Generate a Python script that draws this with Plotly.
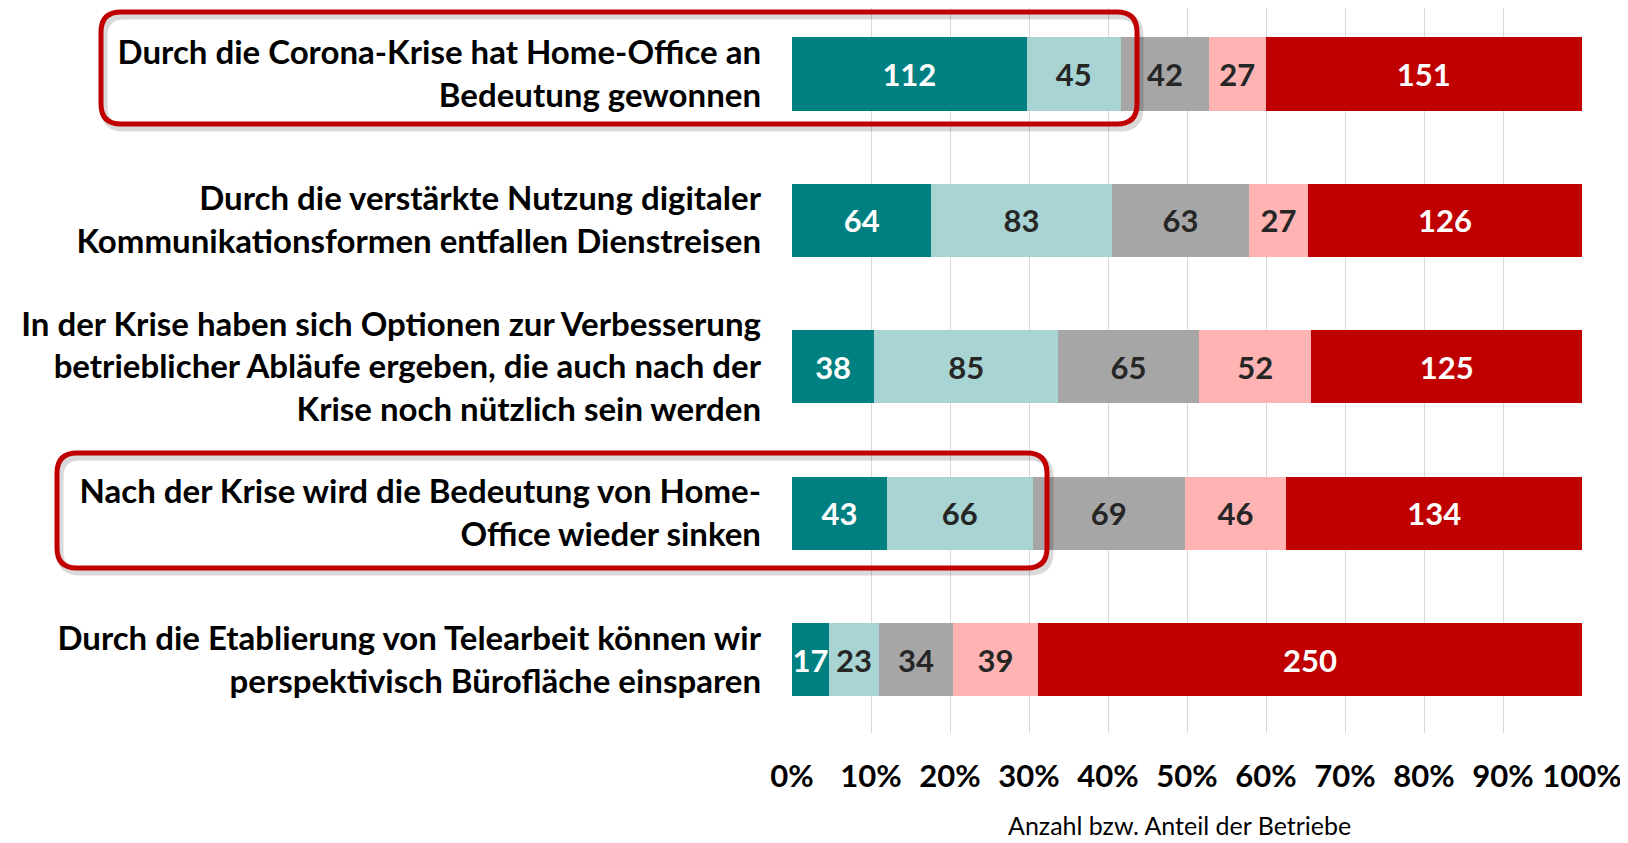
import plotly.graph_objects as go

# categories (top to bottom)
statements = [
    "Durch die Corona-Krise hat Home-Office an<br>Bedeutung gewonnen",
    "Durch die verstärkte Nutzung digitaler<br>Kommunikationsformen entfallen Dienstreisen",
    "In der Krise haben sich Optionen zur Verbesserung<br>betrieblicher Abläufe ergeben, die auch nach der<br>Krise noch nützlich sein werden",
    "Nach der Krise wird die Bedeutung von Home-<br>Office wieder sinken",
    "Durch die Etablierung von Telearbeit können wir<br>perspektivisch Bürofläche einsparen",
]

# counts per answer category
trifft_voll_zu = [112, 64, 38, 43, 17]
trifft_eher_zu = [45, 83, 85, 66, 23]
teils_teils = [42, 63, 65, 69, 34]
trifft_eher_nicht_zu = [27, 27, 52, 46, 39]
trifft_nicht_zu = [151, 126, 125, 134, 250]

series = [
    ("trifft voll zu", trifft_voll_zu, "#008080", "white"),
    ("trifft eher zu", trifft_eher_zu, "#A8D4D4", "#262626"),
    ("teils/teils", teils_teils, "#A6A6A6", "#262626"),
    ("trifft eher nicht zu", trifft_eher_nicht_zu, "#FFB3B3", "#262626"),
    ("trifft nicht zu", trifft_nicht_zu, "#C00000", "white"),
]

# page has an 8px body margin, so the figure is a bit smaller
OFF = 8
W, H = 1620, 835
L, R, T, B = 784, 46, 0, 110
PW, PH = W - L - R, H - T - B

fig = go.Figure()
for name, vals, col, tcol in series:
    fig.add_trace(go.Bar(
        y=statements, x=vals, name=name, orientation="h",
        marker=dict(color=col, line=dict(width=0)),
        text=vals, textposition="inside", insidetextanchor="middle",
        textfont=dict(family="Lato", size=31, color=tcol, weight="bold"),
        constraintext="none",
    ))


def px(x, y):
    # page pixel -> paper coords
    return (x - OFF - L) / PW, (H - B - (y - OFF)) / PH


def rounded_box(x0, y0, x1, y1, r):
    pts = [
        ("M", [(x0 + r, y0)]), ("L", [(x1 - r, y0)]), ("Q", [(x1, y0), (x1, y0 + r)]),
        ("L", [(x1, y1 - r)]), ("Q", [(x1, y1), (x1 - r, y1)]),
        ("L", [(x0 + r, y1)]), ("Q", [(x0, y1), (x0, y1 - r)]),
        ("L", [(x0, y0 + r)]), ("Q", [(x0, y0), (x0 + r, y0)]),
    ]
    s = ""
    for cmd, ps in pts:
        s += cmd + " " + " ".join("%.5f,%.5f" % px(a, b) for a, b in ps) + " "
    return s + "Z"


shapes = []
for (x0, y0, x1, y1) in [(101, 12, 1137, 124), (57, 453, 1047, 568)]:
    shapes.append(dict(type="path", xref="paper", yref="paper",
                       path=rounded_box(x0 + 3, y0 + 4, x1 + 3, y1 + 4, 20),
                       line=dict(color="rgba(0,0,0,0.15)", width=7)))
    shapes.append(dict(type="path", xref="paper", yref="paper",
                       path=rounded_box(x0, y0, x1, y1, 20),
                       line=dict(color="#C00000", width=5)))

fig.update_layout(
    width=W, height=H,
    barmode="stack", barnorm="fraction", bargap=0.5,
    showlegend=False,
    plot_bgcolor="white", paper_bgcolor="white",
    margin=dict(l=L, r=R, t=T, b=B),
    uniformtext=dict(minsize=31, mode="show"),
    font=dict(family="Lato", color="black"),
    shapes=shapes,
    xaxis=dict(
        range=[0, 1], dtick=0.1, tickformat=".0%",
        showgrid=True, gridcolor="#D9D9D9", gridwidth=1,
        zeroline=False, showline=False,
        tickfont=dict(family="Lato", size=31, color="black", weight="bold"),
        ticklabelstandoff=22,
    ),
    yaxis=dict(
        range=[4.5, -0.45], showgrid=False, zeroline=False, showline=False,
        tickfont=dict(family="Lato", size=33, color="black", weight="bold"),
        ticklabelstandoff=30,
    ),
    annotations=[dict(
        text="Anzahl bzw. Anteil der Betriebe", xref="paper", yref="paper",
        x=0.49, y=(H - B - (825 - OFF)) / PH, xanchor="center", yanchor="middle",
        showarrow=False, font=dict(family="Lato", size=25, color="black"),
    )],
)

fig.write_html("out.html")
